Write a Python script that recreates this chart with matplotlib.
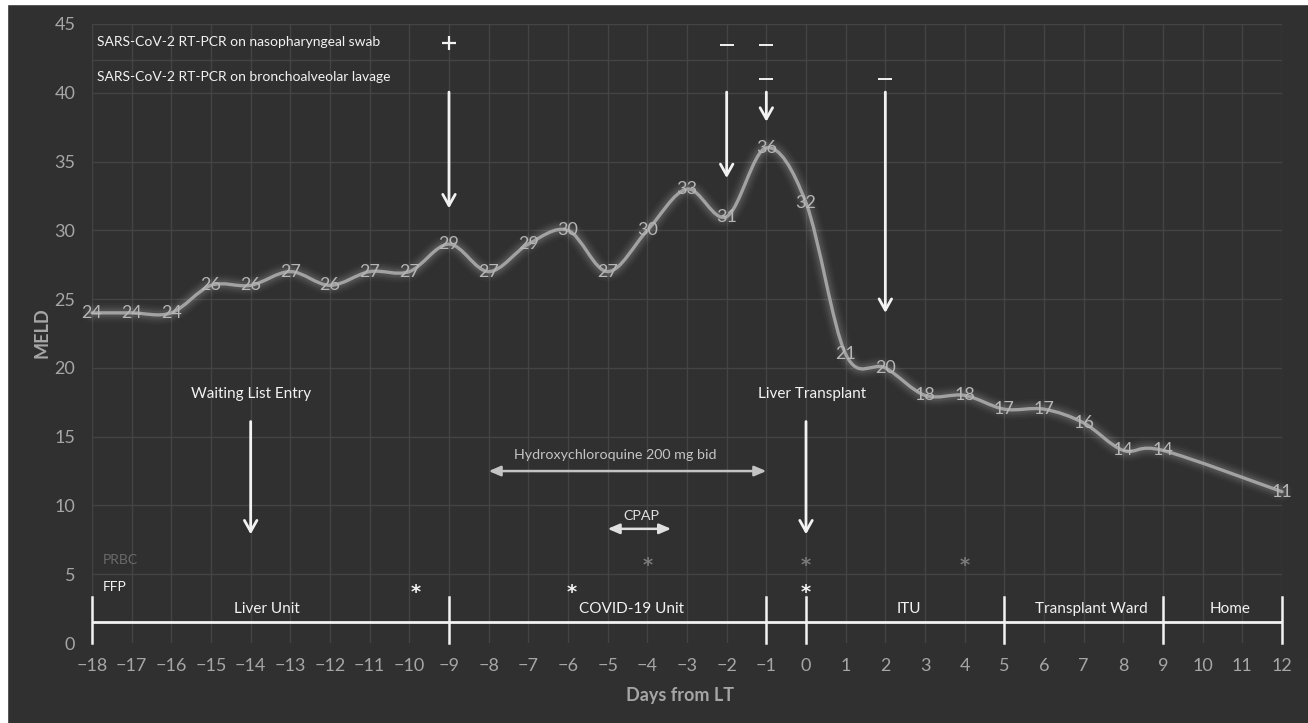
import numpy as np
import matplotlib
matplotlib.use('Agg')
import matplotlib.pyplot as plt
from matplotlib.path import Path
from matplotlib.patches import PathPatch, Rectangle

FONT = ['Lato', 'DejaVu Sans']
plt.rcParams['font.family'] = FONT

# ---------------- data ----------------
days = [-18, -17, -16, -15, -14, -13, -12, -11, -10, -9, -8, -7, -6, -5, -4,
        -3, -2, -1, 0, 1, 2, 3, 4, 5, 6, 7, 8, 9, 12]
meld = [24, 24, 24, 26, 26, 27, 26, 27, 27, 29, 27, 29, 30, 27, 30,
        33, 31, 36, 32, 21, 20, 18, 18, 17, 17, 16, 14, 14, 11]

x_ticks = list(range(-18, 13))
y_ticks = list(range(0, 46, 5))

pcr_rows = ["SARS-CoV-2 RT-PCR on nasopharyngeal swab",
            "SARS-CoV-2 RT-PCR on bronchoalveolar lavage"]
naso_pos_days = [-9]
naso_neg_days = [-2, -1]
bal_neg_days = [-1, 2]
pcr_arrow_days = [-9, -2, -1, 2]
pcr_arrow_tips = [31.6, 33.8, 37.9, 24.0]

events = ["Waiting List Entry", "Liver Transplant"]
event_days = [-14, 0]
event_text_x = [-14, 0.15]

hcq_label = "Hydroxychloroquine 200 mg bid"
hcq_span = [-8, -1]
cpap_label = "CPAP"
cpap_span = [-5, -3.4]

prbc_days = [-4, 0, 4]
ffp_days = [-9.85, -5.9, 0]

units = ["Liver Unit", "COVID-19 Unit", "ITU", "Transplant Ward", "Home"]
unit_bounds = [-18, -9, -1, 0, 5, 9, 12]
unit_label_x = [-13.6, -4.4, 2.6, 7.2, 10.7]

# ---------------- style ----------------
BG = '#303030'
GRID = '#444444'
TICK = '#a6a6a6'
LINE = '#a2a2a2'
LABEL = '#b6b6b6'
WHITE = '#f2f2f2'

W, H = 1308, 723
fig = plt.figure(figsize=(W / 100, H / 100), dpi=100, facecolor=BG)
ax = fig.add_axes([92 / W, 1 - 643 / H, (1282 - 92) / W, (643 - 24) / H])
ax.set_facecolor(BG)
ax.set_xlim(-18, 12)
ax.set_ylim(0, 45)
for s in ax.spines.values():
    s.set_visible(False)

ax.set_xticks(x_ticks)
ax.set_xticklabels([str(t).replace('-', '\u2212') for t in x_ticks])
ax.set_yticks(y_ticks)
ax.tick_params(length=0, colors=TICK, labelsize=13)
ax.tick_params(axis='x', pad=11)
ax.tick_params(axis='y', pad=12)

for t in x_ticks:
    ax.axvline(t, color=GRID, lw=1, zorder=0)
for t in y_ticks[1:]:
    ax.axhline(t, color=GRID, lw=1, zorder=0)
ax.axhline(42.36, color=GRID, lw=1, zorder=0)

# ---------------- smooth line (Catmull-Rom / Excel-like) ----------------
pts = np.column_stack([days, meld]).astype(float)
ext = np.vstack([pts[0], pts, pts[-1]])
verts = [tuple(pts[0])]
codes = [Path.MOVETO]
for i in range(len(pts) - 1):
    p0, p1, p2, p3 = ext[i], ext[i + 1], ext[i + 2], ext[i + 3]
    c1 = p1 + (p2 - p0) / 6.0
    c2 = p2 - (p3 - p1) / 6.0
    verts += [tuple(c1), tuple(c2), tuple(p2)]
    codes += [Path.CURVE4] * 3
path = Path(verts, codes)
for lw, a in [(14, 0.025), (11, 0.035), (8, 0.05), (5.5, 0.06)]:
    ax.add_patch(PathPatch(path, fill=False, lw=lw, edgecolor='white',
                           alpha=a, capstyle='round', joinstyle='round',
                           clip_on=False, zorder=2))
ax.add_patch(PathPatch(path, fill=False, lw=2.4, edgecolor=LINE,
                       capstyle='round', clip_on=False, zorder=3))
for d, m in zip(days, meld):
    ax.text(d, m, str(m), ha='center', va='center', color=LABEL,
            fontsize=13, zorder=4, clip_on=False)

# ---------------- PCR rows ----------------
ax.text(-17.87, 43.67, pcr_rows[0], color=WHITE, fontsize=10,
        ha='left', va='center')
ax.text(-17.87, 41.12, pcr_rows[1], color=WHITE, fontsize=10,
        ha='left', va='center')
ax.plot(naso_pos_days, [43.6] * len(naso_pos_days), ls='none', marker='+',
        ms=10, mew=1.6, color=WHITE)
ax.plot(naso_neg_days, [43.45] * len(naso_neg_days), ls='none', marker='_',
        ms=10, mew=1.4, color=WHITE)
ax.plot(bal_neg_days, [41.0] * len(bal_neg_days), ls='none', marker='_',
        ms=10, mew=1.4, color=WHITE)
for d, tip in zip(pcr_arrow_days, pcr_arrow_tips):
    ax.annotate('', xy=(d, tip), xytext=(d, 40.05),
                arrowprops=dict(arrowstyle='->,head_length=0.8,head_width=0.45',
                                color=WHITE, lw=2, shrinkA=0, shrinkB=0))

# ---------------- events ----------------
for lab, d, tx in zip(events, event_days, event_text_x):
    ax.text(tx, 18.1, lab, color=WHITE, fontsize=11, ha='center', va='center')
    ax.annotate('', xy=(d, 7.9), xytext=(d, 16.1),
                arrowprops=dict(arrowstyle='->,head_length=0.8,head_width=0.45',
                                color=WHITE, lw=2, shrinkA=0, shrinkB=0))

# ---------------- treatments ----------------
ax.annotate('', xy=(hcq_span[1], 12.5), xytext=(hcq_span[0], 12.5),
            arrowprops=dict(arrowstyle='<|-|>,head_length=0.7,head_width=0.3',
                            color='#c4c4c4', lw=1.8, shrinkA=0, shrinkB=0))
ax.text(np.mean(hcq_span) - 0.3, 13.65, hcq_label, color='#c4c4c4',
        fontsize=10.3, ha='center', va='center')
ax.annotate('', xy=(cpap_span[1], 8.3), xytext=(cpap_span[0], 8.3),
            arrowprops=dict(arrowstyle='<|-|>,head_length=0.7,head_width=0.3',
                            color='#e0e0e0', lw=1.8, shrinkA=0, shrinkB=0))
ax.text(-4.15, 9.25, cpap_label, color='#e0e0e0', fontsize=10.3,
        ha='center', va='center')

# ---------------- transfusions ----------------
ax.text(-17.72, 6.0, "PRBC", color='#6a6a6a', fontsize=10, ha='left', va='center')
ax.text(-17.72, 4.05, "FFP", color=WHITE, fontsize=10, ha='left', va='center')
for d in prbc_days:
    ax.text(d, 5.6, '*', color='#7a7a7a', fontsize=14, ha='center',
            va='center', fontweight='bold', family='DejaVu Sans')
for d in ffp_days:
    ax.text(d, 3.65, '*', color=WHITE, fontsize=14, ha='center',
            va='center', fontweight='bold', family='DejaVu Sans')

# ---------------- units bar ----------------
ax.plot([unit_bounds[0], unit_bounds[-1]], [1.53, 1.53], color=WHITE, lw=2,
        solid_capstyle='butt', clip_on=False)
for b in unit_bounds:
    ax.plot([b, b], [0.0, 3.35], color=WHITE, lw=1.8, clip_on=False)
for lab, ux in zip(units, unit_label_x):
    ax.text(ux, 2.5, lab, color=WHITE, fontsize=11, ha='center', va='center')

# ---------------- axis titles ----------------
fig.text(42 / W, 1 - 333 / H, "MELD", rotation=90, color=TICK, fontsize=13,
         fontweight='bold', ha='center', va='center')
fig.text(680 / W, 1 - 696 / H, "Days from LT", color=TICK, fontsize=13,
         fontweight='bold', ha='center', va='center')

# white page border
fig.patches.append(Rectangle((0, 0), 7 / W, 1, transform=fig.transFigure,
                             color='white', zorder=10))
fig.patches.append(Rectangle((0, 1 - 4 / H), 1, 4 / H, transform=fig.transFigure,
                             color='white', zorder=10))

fig.savefig('out.png', dpi=100, facecolor=BG)
